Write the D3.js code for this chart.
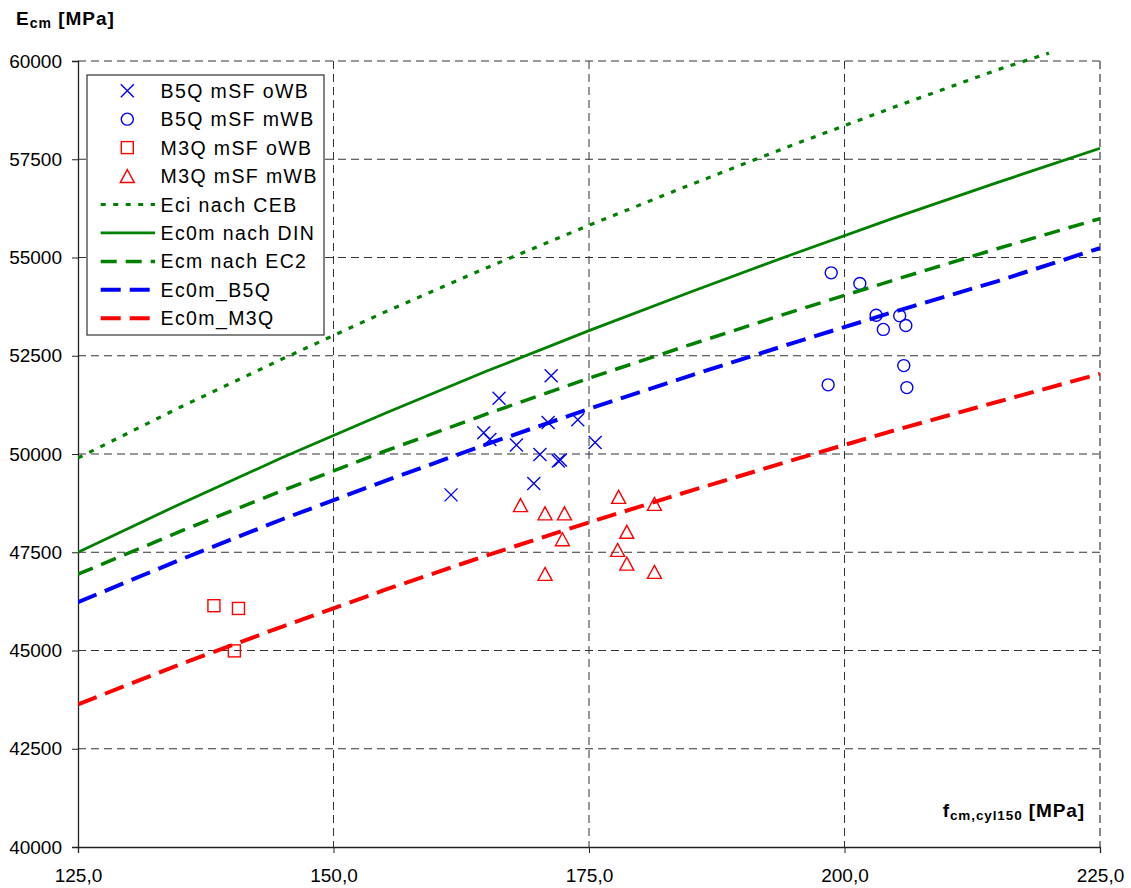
<!DOCTYPE html>
<html>
<head>
<meta charset="utf-8">
<script src="https://cdn.jsdelivr.net/npm/d3@7"></script>
<style>
  body { margin: 0; background: #fff; }
  svg text { font-family: "Liberation Sans", Arial, sans-serif; fill: #000; }
</style>
</head>
<body>
<div id="chart"></div>
<script>
// measured series: B5Q / M3Q specimens, with and without heat treatment
const b5qOwbX = [161.5, 164.7, 165.3, 166.2, 167.9, 169.6, 170.2, 171.0, 171.3, 172.0, 172.2, 173.9, 175.6];
const b5qOwbY = [48960, 50540, 50370, 51420, 50230, 49250, 49990, 50800, 51990, 49820, 49850, 50870, 50290];

const b5qMwbX = [198.4, 198.7, 201.5, 203.1, 203.8, 205.4, 205.8, 206.0, 206.1];
const b5qMwbY = [51760, 54610, 54340, 53530, 53170, 53520, 52250, 53270, 51690];

const m3qOwbX = [138.3, 140.3, 140.7];
const m3qOwbY = [46140, 44990, 46070];

const m3qMwbX = [168.3, 170.7, 170.7, 172.4, 172.6, 177.8, 177.9, 178.7, 178.7, 181.4, 181.4];
const m3qMwbY = [48700, 48490, 46950, 47830, 48490, 47560, 48910, 48020, 47210, 48730, 47000];

// modulus curves, read at fixed fcm steps
const fcmSteps = [125, 135, 145, 155, 165, 175, 185, 195, 205, 215, 225];
const fcmStepsCeb = [125, 135, 145, 155, 165, 175, 185, 195, 205, 215, 220];
const eciCeb   = [49900, 51190, 52420, 53610, 54740, 55820, 56860, 57870, 58840, 59780, 60200];
const ec0mDin  = [47500, 48730, 49910, 51030, 52110, 53140, 54130, 55090, 56020, 56910, 57780];
const ecmEc2   = [46940, 48030, 49070, 50070, 51020, 51930, 52790, 53630, 54440, 55230, 55990];
const ec0mB5q  = [46230, 47310, 48340, 49310, 50250, 51150, 52000, 52830, 53630, 54400, 55240];
const ec0mM3q  = [43630, 44650, 45610, 46540, 47420, 48260, 49070, 49850, 50610, 51330, 52040];

const xTicks = [125, 150, 175, 200, 225];
const yTicks = [40000, 42500, 45000, 47500, 50000, 52500, 55000, 57500, 60000];

const width = 1131, height = 888;
const plot = { left: 78, right: 1100, top: 61, bottom: 847 };

const svg = d3.select("#chart").append("svg")
  .attr("width", width).attr("height", height);

const x = d3.scaleLinear().domain([125, 225]).range([plot.left, plot.right]);
const y = d3.scaleLinear().domain([40000, 60000]).range([plot.bottom, plot.top]);

// grid, dashed like the excel original
const grid = svg.append("g").attr("class", "grid");
grid.selectAll("line.h")
  .data(yTicks.slice(1))
  .enter().append("line")
  .attr("x1", plot.left).attr("x2", plot.right)
  .attr("y1", d => y(d)).attr("y2", d => y(d))
  .attr("stroke", "#333").attr("stroke-width", 1)
  .attr("stroke-dasharray", "8,5");
grid.selectAll("line.v")
  .data(xTicks.slice(1))
  .enter().append("line")
  .attr("x1", d => x(d)).attr("x2", d => x(d))
  .attr("y1", plot.top).attr("y2", plot.bottom)
  .attr("stroke", d => d === 225 ? "#888" : "#333")
  .attr("stroke-width", d => d === 225 ? 2 : 1)
  .attr("stroke-dasharray", "8,5");

// axes
const yAxis = d3.axisLeft(y).tickValues(yTicks).tickFormat(d3.format("d"))
  .tickSize(6).tickPadding(10);
const xAxis = d3.axisBottom(x).tickValues(xTicks)
  .tickFormat(d => d.toFixed(1).replace(".", ","))
  .tickSize(6).tickPadding(16);

const gy = svg.append("g").attr("transform", `translate(${plot.left},0)`).call(yAxis);
const gx = svg.append("g").attr("transform", `translate(0,${plot.bottom})`).call(xAxis);
[gx, gy].forEach(g => {
  g.select(".domain").attr("stroke", "#222").attr("stroke-width", 1.3);
  g.selectAll(".tick line").attr("stroke", "#222");
  g.selectAll(".tick text").attr("font-size", 19)
    .style("font-family", "'Liberation Sans', Arial, sans-serif").attr("fill", "#000");
});

// markers
const markers = svg.append("g");
const zip = (xs, ys) => xs.map((v, i) => [v, ys[i]]);

markers.selectAll("path.x")
  .data(zip(b5qOwbX, b5qOwbY))
  .enter().append("path")
  .attr("transform", d => `translate(${x(d[0])},${y(d[1])})`)
  .attr("d", "M-6.5,-6.5L6.5,6.5M-6.5,6.5L6.5,-6.5")
  .attr("stroke", "#0000ff").attr("stroke-width", 1.4).attr("fill", "none");

markers.selectAll("circle")
  .data(zip(b5qMwbX, b5qMwbY))
  .enter().append("circle")
  .attr("cx", d => x(d[0])).attr("cy", d => y(d[1])).attr("r", 6)
  .attr("stroke", "#0000ff").attr("stroke-width", 1.4).attr("fill", "none");

markers.selectAll("rect")
  .data(zip(m3qOwbX, m3qOwbY))
  .enter().append("rect")
  .attr("x", d => x(d[0]) - 6).attr("y", d => y(d[1]) - 6)
  .attr("width", 12).attr("height", 12)
  .attr("stroke", "#ff0000").attr("stroke-width", 1.4).attr("fill", "none");

markers.selectAll("path.tri")
  .data(zip(m3qMwbX, m3qMwbY))
  .enter().append("path")
  .attr("transform", d => `translate(${x(d[0])},${y(d[1])})`)
  .attr("d", "M0,-6.5L7,6.5L-7,6.5Z")
  .attr("stroke", "#ff0000").attr("stroke-width", 1.4).attr("fill", "none");

// curves
svg.append("clipPath").attr("id", "clip")
  .append("rect").attr("x", plot.left).attr("y", plot.top - 10)
  .attr("width", plot.right - plot.left).attr("height", plot.bottom - plot.top + 10);

const curves = [
  { name: "Eci nach CEB",   xs: fcmStepsCeb, ys: eciCeb,  color: "#008000", w: 3.2, dash: "5,7.5" },
  { name: "Ec0m nach DIN",  xs: fcmSteps,    ys: ec0mDin, color: "#008000", w: 2.8, dash: null },
  { name: "Ecm nach EC2",   xs: fcmSteps,    ys: ecmEc2,  color: "#008000", w: 3.5, dash: "16,9" },
  { name: "Ec0m_B5Q",       xs: fcmSteps,    ys: ec0mB5q, color: "#0000ff", w: 4,   dash: "20,9" },
  { name: "Ec0m_M3Q",       xs: fcmSteps,    ys: ec0mM3q, color: "#ff0000", w: 4,   dash: "20,9" }
];

const line = d3.line().x(d => x(d[0])).y(d => y(d[1]));
svg.append("g").attr("clip-path", "url(#clip)")
  .selectAll("path")
  .data(curves)
  .enter().append("path")
  .attr("d", c => line(zip(c.xs, c.ys)))
  .attr("fill", "none")
  .attr("stroke", c => c.color)
  .attr("stroke-width", c => c.w)
  .attr("stroke-dasharray", c => c.dash);

// legend
const legend = svg.append("g");
legend.append("rect")
  .attr("x", 87).attr("y", 75).attr("width", 237).attr("height", 260)
  .attr("fill", "#fff").attr("stroke", "#333").attr("stroke-width", 1.2);

const legendItems = [
  { label: "B5Q mSF oWB", type: "x",   color: "#0000ff" },
  { label: "B5Q mSF mWB", type: "o",   color: "#0000ff" },
  { label: "M3Q mSF oWB", type: "sq",  color: "#ff0000" },
  { label: "M3Q mSF mWB", type: "tri", color: "#ff0000" }
].concat(curves.map(c => ({ label: c.name, type: "line", color: c.color, w: c.w, dash: c.dash })));

const rowY = i => 90.7 + i * 28.45;
const rows = legend.selectAll("g.row")
  .data(legendItems)
  .enter().append("g")
  .attr("transform", (d, i) => `translate(0,${rowY(i)})`);

rows.each(function(d) {
  const g = d3.select(this);
  const mx = 127.3;
  if (d.type === "x") {
    g.append("path").attr("d", `M${mx - 6.5},-6.5L${mx + 6.5},6.5M${mx - 6.5},6.5L${mx + 6.5},-6.5`)
      .attr("stroke", d.color).attr("stroke-width", 1.4);
  } else if (d.type === "o") {
    g.append("circle").attr("cx", mx).attr("cy", 0).attr("r", 6)
      .attr("stroke", d.color).attr("stroke-width", 1.4).attr("fill", "none");
  } else if (d.type === "sq") {
    g.append("rect").attr("x", mx - 6).attr("y", -6).attr("width", 12).attr("height", 12)
      .attr("stroke", d.color).attr("stroke-width", 1.4).attr("fill", "none");
  } else if (d.type === "tri") {
    g.append("path").attr("d", `M${mx},-6.5L${mx + 7},6.5L${mx - 7},6.5Z`)
      .attr("stroke", d.color).attr("stroke-width", 1.4).attr("fill", "none");
  } else {
    g.append("line").attr("x1", 100.7).attr("x2", 155).attr("y1", 0).attr("y2", 0)
      .attr("stroke", d.color).attr("stroke-width", d.w)
      .attr("stroke-dasharray", d.dash);
  }
  g.append("text").attr("x", 160.5).attr("y", 0).attr("dy", "0.36em")
    .attr("font-size", 19.5).attr("letter-spacing", 1.4).text(d.label);
});

// axis titles
const yTitle = svg.append("text").attr("x", 16).attr("y", 25)
  .attr("font-size", 19).attr("font-weight", "bold").attr("letter-spacing", 1);
yTitle.append("tspan").text("E");
yTitle.append("tspan").attr("font-size", 14).attr("dy", 3).text("cm");
yTitle.append("tspan").attr("dy", -3).text(" [MPa]");

const xTitle = svg.append("text").attr("x", 1085).attr("y", 817)
  .attr("text-anchor", "end")
  .attr("font-size", 19).attr("font-weight", "bold").attr("letter-spacing", 0.9);
xTitle.append("tspan").text("f");
xTitle.append("tspan").attr("font-size", 13.5).attr("dy", 3).text("cm,cyl150");
xTitle.append("tspan").attr("dy", -3).text(" [MPa]");
</script>
</body>
</html>
